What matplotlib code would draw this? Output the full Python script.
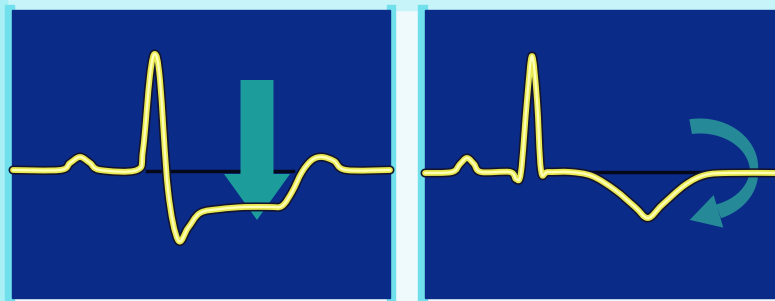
import numpy as np
import matplotlib
matplotlib.use("Agg")
import matplotlib.pyplot as plt
from matplotlib.patches import Rectangle, FancyArrow, Polygon, PathPatch
from matplotlib.path import Path

# ECG trace 1 (ST depression) - pixel coordinates
ecg1_x = [13, 60, 70, 80, 90, 100, 137, 143, 150, 155, 160, 168, 178, 188, 200, 220, 245, 270, 282, 292, 302, 312, 322, 334, 346, 390]
ecg1_y = [170, 170, 163, 157, 163, 170, 170, 150, 75, 54, 80, 190, 240, 228, 213, 209, 207, 207, 206, 192, 172, 160, 157, 161, 170, 170]

# ECG trace 2 (T-wave inversion)
ecg2_x = [425, 452, 460, 467, 474, 481, 510, 516, 521, 527, 532, 537, 541, 548, 570, 592, 615, 635, 648, 662, 685, 705, 730, 775]
ecg2_y = [173, 172, 164, 158, 164, 172, 172, 179, 172, 100, 56, 100, 170, 172, 172, 176, 190, 207, 218, 205, 185, 175, 173, 173]

# isoelectric reference lines
ref1_x = [147, 293]
ref2_x = [543, 775]
ref_y = [170.5, 172]

NAVY = "#0a2b88"
TEAL = "#1d9c9c"
TEAL2 = "#2a9a9c"


def smooth_path(xs, ys):
    """Catmull-Rom through the read points, rendered as cubic Bezier segments."""
    p = np.column_stack([xs, ys]).astype(float)
    verts = [p[0]]
    codes = [Path.MOVETO]
    n = len(p)
    for i in range(n - 1):
        p0 = p[i - 1] if i > 0 else p[i]
        p1, p2 = p[i], p[i + 1]
        p3 = p[i + 2] if i + 2 < n else p[i + 1]
        c1 = p1 + (p2 - p0) / 6.0
        c2 = p2 - (p3 - p1) / 6.0
        verts += [c1, c2, p2]
        codes += [Path.CURVE4] * 3
    return Path(verts, codes)


fig = plt.figure(figsize=(7.75, 3.01), dpi=100)
ax = fig.add_axes([0, 0, 1, 1])
ax.set_xlim(0, 775)
ax.set_ylim(301, 0)
ax.axis("off")

# background / frames
ax.add_patch(Rectangle((0, 0), 775, 301, color="#eefafc", zorder=0))
ax.add_patch(Rectangle((0, 0), 775, 10, color="#c6f4f8", zorder=0.5))
ax.add_patch(Rectangle((0, 0), 7, 301, color="#a8f0f6", zorder=0.5))
ax.add_patch(Rectangle((5, 5), 9, 296, color="#6fe0ec", zorder=0.6))
ax.add_patch(Rectangle((387, 5), 8, 296, color="#6fe0ec", zorder=0.6))
ax.add_patch(Rectangle((418, 5), 9, 296, color="#6fe0ec", zorder=0.6))
ax.add_patch(Rectangle((12, 10), 378, 288, color=NAVY, zorder=1))
ax.add_patch(Rectangle((425, 10), 350, 288, color=NAVY, zorder=1))

# reference lines
ax.plot(ref1_x, [ref_y[0]] * 2, color="#050818", lw=2.5, zorder=2)
ax.plot(ref2_x, [ref_y[1]] * 2, color="#050818", lw=2.5, zorder=2)

# straight down arrow (left panel)
ax.add_patch(FancyArrow(257, 80, 0, 140, width=33, head_width=66, head_length=46,
                        length_includes_head=True, color=TEAL, lw=0, zorder=3))

# curved arrow (right panel): tapered arc band + head
cx, cy, rx, ry = 700, 170, 54, 44
t = np.linspace(np.deg2rad(100), np.deg2rad(-70), 100)
w = 8 + 7 * np.abs(np.sin(t))
outer = np.column_stack([cx + (rx + w / 2) * np.cos(t), cy - (ry + w / 2) * np.sin(t)])
inner = np.column_stack([cx + (rx - w / 2) * np.cos(t), cy - (ry - w / 2) * np.sin(t)])
ax.add_patch(Polygon(np.vstack([outer, inner[::-1]]), closed=True, color=TEAL2,
                     alpha=0.85, lw=0, zorder=3))
te = t[-1]
end = np.array([cx + rx * np.cos(te), cy - ry * np.sin(te)])
d = np.array([rx * np.sin(te), ry * np.cos(te)])
d /= np.hypot(*d)
perp = np.array([-d[1], d[0]])
ax.add_patch(Polygon([end + perp * 17, end - perp * 17, end + d * 30], closed=True,
                     color=TEAL2, alpha=0.85, lw=0, zorder=3))

# ECG traces
for xs, ys in [(ecg1_x, ecg1_y), (ecg2_x, ecg2_y)]:
    path = smooth_path(xs, ys)
    for col, lw, z in [("#14142e", 6.5, 4), ("#e8e850", 4.2, 5), ("#ffffb8", 1.6, 6)]:
        ax.add_patch(PathPatch(path, fill=False, edgecolor=col, lw=lw,
                               joinstyle="round", capstyle="round", zorder=z))

fig.savefig("out.png", dpi=100)
